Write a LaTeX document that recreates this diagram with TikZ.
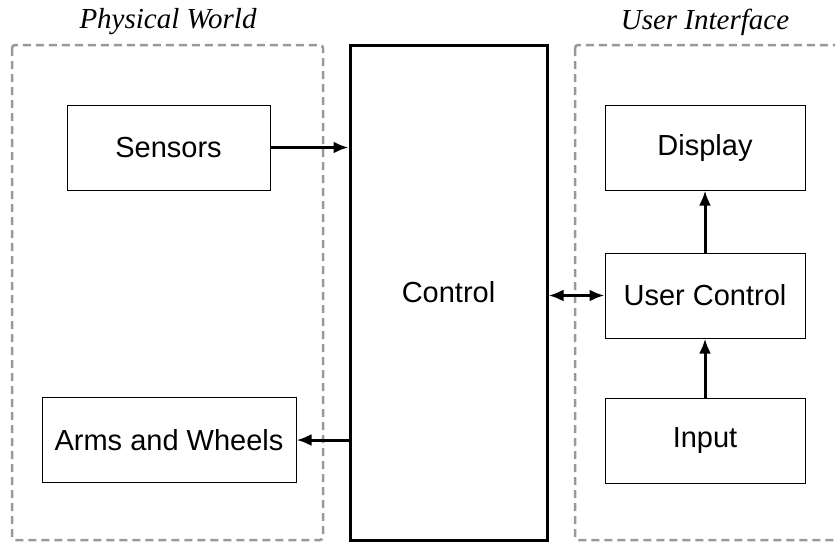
\documentclass[tikz,border=0pt]{standalone}
\usepackage{fontspec}
\setmainfont{Liberation Serif}
\setsansfont{Liberation Sans}
\usetikzlibrary{positioning,arrows.meta}

\tikzset{
    block/.style={draw, line width=1pt, minimum width=201pt, minimum height=85pt,
        font=\sffamily\fontsize{29}{32}\selectfont},
    region/.style={draw=gray!80, dashed, dash pattern=on 8pt off 5pt, line width=2.5pt,
        rounded corners=3pt},
    title/.style={font=\itshape\fontsize{29}{32}\selectfont},
    link/.style={line width=3pt, -{Latex[length=15pt,width=12pt]}},
}

\begin{document}
\begin{tikzpicture}[x=1pt, y=-1pt]
    \useasboundingbox (0,0) rectangle (835,544);

    % the two dashed regions
    \draw[region] (12,45) rectangle (323,540);
    \draw[region] (575,45) rectangle (860,540);
    \node[title] (world) at (168,22) {Physical World};
    \node[title] (ui) at (705,22) {User Interface};

    % the central block
    \node[draw, line width=3pt, minimum width=197pt, minimum height=495pt,
        font=\sffamily\fontsize{29}{32}\selectfont] (control) at (448.5,292.5) {Control};

    \node[block, minimum width=203pt] (sensors) at (168.5,147.5) {Sensors};
    \node[block, minimum width=254pt] (arms) at (169,440) {Arms and Wheels};

    \node[block, minimum width=200pt] (display) at (705,147.5) {Display};
    \node[block, minimum width=200pt] (user) [below=62pt of display] {User Control};
    \node[block, minimum width=200pt] (input) [below=59pt of user] {Input};

    \draw[link] (sensors.east) -- (sensors.east -| control.west);
    \draw[link] (arms.east -| control.west) -- (arms.east);
    \draw[link, {Latex[length=15pt,width=12pt]}-{Latex[length=15pt,width=12pt]}]
        (user.west -| control.east) -- (user.west);
    \draw[link] (user) -- (display);
    \draw[link] (input) -- (user);
\end{tikzpicture}
\end{document}
